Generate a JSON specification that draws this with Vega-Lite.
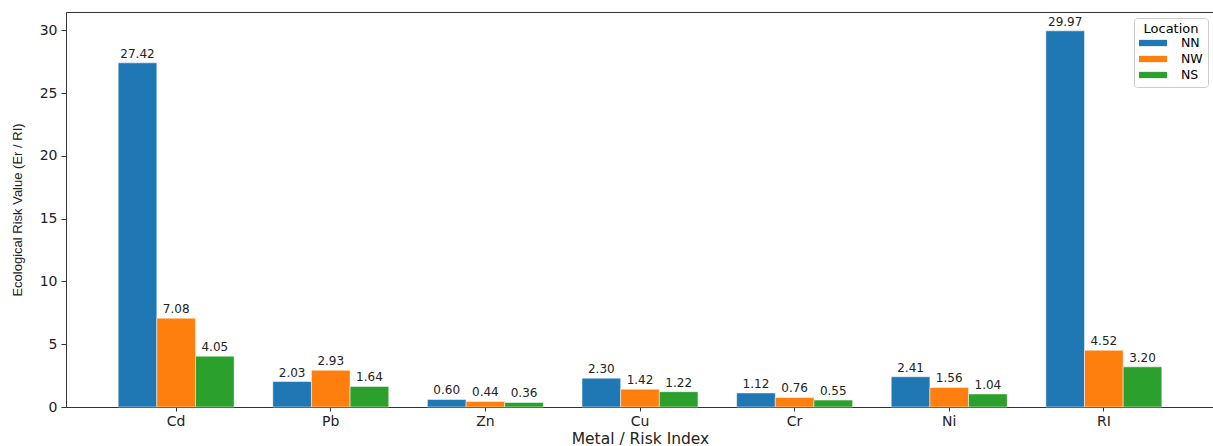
{
  "$schema": "https://vega.github.io/schema/vega-lite/v6.json",
  "autosize": {"type": "none"},
  "padding": {"left": 66, "top": 12, "right": 0, "bottom": 39},
  "width": 1148,
  "height": 395,
  "background": "white",
  "config": {
    "font": "DejaVu Sans",
    "view": {"stroke": "#333", "strokeWidth": 1},
    "axis": {"grid": false, "domainColor": "#333", "tickColor": "#333", "labelColor": "#222", "titleColor": "#222", "titleFontWeight": "normal"}
  },
  "data": {
    "values": [
      {"metal": "Cd", "loc": "NN", "v": 27.42},
      {"metal": "Cd", "loc": "NW", "v": 7.08},
      {"metal": "Cd", "loc": "NS", "v": 4.05},
      {"metal": "Pb", "loc": "NN", "v": 2.03},
      {"metal": "Pb", "loc": "NW", "v": 2.93},
      {"metal": "Pb", "loc": "NS", "v": 1.64},
      {"metal": "Zn", "loc": "NN", "v": 0.60},
      {"metal": "Zn", "loc": "NW", "v": 0.44},
      {"metal": "Zn", "loc": "NS", "v": 0.36},
      {"metal": "Cu", "loc": "NN", "v": 2.30},
      {"metal": "Cu", "loc": "NW", "v": 1.42},
      {"metal": "Cu", "loc": "NS", "v": 1.22},
      {"metal": "Cr", "loc": "NN", "v": 1.12},
      {"metal": "Cr", "loc": "NW", "v": 0.76},
      {"metal": "Cr", "loc": "NS", "v": 0.55},
      {"metal": "Ni", "loc": "NN", "v": 2.41},
      {"metal": "Ni", "loc": "NW", "v": 1.56},
      {"metal": "Ni", "loc": "NS", "v": 1.04},
      {"metal": "RI", "loc": "NN", "v": 29.97},
      {"metal": "RI", "loc": "NW", "v": 4.52},
      {"metal": "RI", "loc": "NS", "v": 3.20}
    ]
  },
  "encoding": {
    "x": {
      "field": "metal", "type": "nominal", "sort": ["Cd", "Pb", "Zn", "Cu", "Cr", "Ni", "RI"],
      "scale": {"paddingInner": 0.25, "paddingOuter": 0.3375},
      "axis": {"title": "Metal / Risk Index", "labelAngle": 0, "labelFontSize": 14, "titleFontSize": 15.5, "tickSize": 4, "labelPadding": 3, "titlePadding": 3}
    },
    "xOffset": {"field": "loc", "type": "nominal", "sort": ["NN", "NW", "NS"], "scale": {"paddingInner": 0, "paddingOuter": 0}},
    "y": {
      "field": "v", "type": "quantitative",
      "scale": {"domain": [0, 31.47], "nice": false, "zero": true},
      "axis": {"title": "Ecological Risk Value (Er / RI)", "values": [0, 5, 10, 15, 20, 25, 30], "labelFontSize": 14, "titleFontSize": 13, "tickSize": 5, "labelPadding": 4, "titlePadding": 15, "titleFont": "Liberation Sans"}
    }
  },
  "layer": [
    {
      "mark": {"type": "bar", "stroke": "white", "strokeWidth": 0.5},
      "encoding": {
        "color": {
          "field": "loc", "type": "nominal", "sort": ["NN", "NW", "NS"],
          "scale": {"domain": ["NN", "NW", "NS"], "range": ["#1f77b4", "#ff7f0e", "#2ca02c"]},
          "legend": {
            "title": "Location", "orient": "top-right", "offset": 6,
            "titleFontSize": 13, "titleFontWeight": "normal", "titleAlign": "center", "titleAnchor": "middle", "titlePadding": 0,
            "labelFontSize": 12.5, "labelOffset": 28, "symbolType": "M-1,-0.45H3V0.45H-1Z", "symbolSize": 196, "symbolStrokeWidth": 0,
            "fillColor": "white", "strokeColor": "#ccc", "padding": 5, "cornerRadius": 3, "rowPadding": 2
          }
        }
      }
    },
    {
      "mark": {"type": "text", "baseline": "bottom", "dy": -2, "fontSize": 12, "color": "#222"},
      "encoding": {"text": {"field": "v", "type": "quantitative", "format": ".2f"}}
    }
  ]
}
